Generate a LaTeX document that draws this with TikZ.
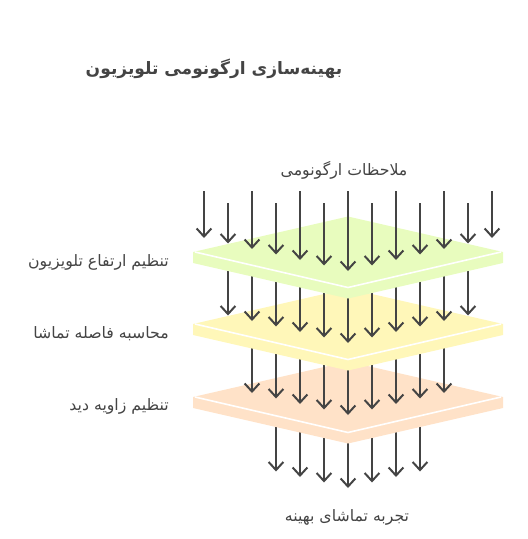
\documentclass[tikz,border=0pt]{standalone}
\usepackage{fontspec}
\usetikzlibrary{arrows.meta}
\TeXXeTstate=1
\newfontfamily\arabicfont[Script=Arabic]{DejaVu Sans}
\definecolor{verde}{RGB}{232,252,190}
\definecolor{giallo}{RGB}{255,247,185}
\definecolor{arancio}{RGB}{255,226,200}
\definecolor{grigio}{RGB}{68,68,68}
\tikzset{
  freccia/.style={draw=grigio,line width=1.5pt,-{Straight Barb[length=6pt,width=11pt]}},
  etichetta/.style={inner sep=0pt,text=grigio,font=\arabicfont\fontsize{11.8}{14}\selectfont},
  titolo/.style={inner sep=0pt,text=grigio,font=\arabicfont\bfseries\fontsize{12.8}{15}\selectfont}
}
\begin{document}
\begin{tikzpicture}[x=0.75pt,y=-0.75pt]
            \useasboundingbox (0,0) rectangle (528,539);

            %titolo e testi
            \node[titolo] (titolo) at (214,69) {\beginR بهینه^^^^200cسازی ارگونومی تلویزیون\endR};
            \node[etichetta] (ingresso) at (344,170) {\beginR ملاحظات ارگونومی\endR};
            \node[etichetta] (uscita) at (347,517) {\beginR تجربه تماشای بهینه\endR};
            \node[etichetta,anchor=east] (l1) at (169,262) {\beginR تنظیم ارتفاع تلویزیون\endR};
            \node[etichetta,anchor=east] (l2) at (169,334) {\beginR محاسبه فاصله تماشا\endR};
            \node[etichetta,anchor=east] (l3) at (169,406) {\beginR تنظیم زاویه دید\endR};

            %frecce sotto ogni piano, poi il piano
            \foreach \k/\yc/\col/\n in {3/397/arancio/3, 2/324/giallo/4, 1/252/verde/5} {
                \foreach \j in {-\n,...,\n} {
                    \coordinate (s\k\j) at ({348+24*\j},\yc);
                    \coordinate (e\k\j) at ({348+24*\j},{\yc+91-5.5*abs(\j)});
                    \draw[freccia] (s\k\j) -- (e\k\j);
                }
                \fill[\col] (193,\yc) -- (348,\yc-35.5) -- (503,\yc) -- (503,\yc+11)
                    -- (348,\yc+46.5) -- (193,\yc+11) -- cycle;
                \draw[white,line width=1.2pt] (195,\yc) -- (348,\yc+35.5) -- (501,\yc);
            }

            %frecce sopra il primo piano
            \foreach \j in {-6,...,6} {
                \pgfmathsetmacro\ys{isodd(\j) ? 203 : 191}
                \coordinate (a\j) at ({348+24*\j},\ys);
                \coordinate (b\j) at ({348+24*\j},{271-5.5*abs(\j)});
                \draw[freccia] (a\j) -- (b\j);
            }
\end{tikzpicture}
\end{document}
